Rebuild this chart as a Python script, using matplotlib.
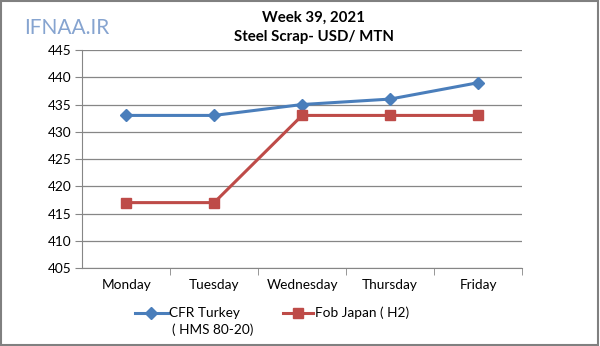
import matplotlib.pyplot as plt
from matplotlib.patches import Rectangle
from matplotlib.lines import Line2D

# Datos
dias = ['Monday', 'Tuesday', 'Wednesday', 'Thursday', 'Friday']
cfr_turkey = [433, 433, 435, 436, 439]
fob_japan = [417, 417, 433, 433, 433]
y_ticks = [405, 410, 415, 420, 425, 430, 435, 440, 445]

azul = '#4A7EBB'
rojo = '#BE4B48'

plt.rcParams['font.family'] = ['Lato', 'DejaVu Sans']

fig = plt.figure(figsize=(6, 3.46), dpi=100)
ax = fig.add_axes([0.137, 0.2254, 0.733, 0.6300])

x = list(range(len(dias)))
ax.plot(x, cfr_turkey, color=azul, lw=2.2, marker='D', ms=6)
ax.plot(x, fob_japan, color=rojo, lw=2.2, marker='s', ms=7)

ax.set_xlim(-0.5, len(dias) - 0.5)
ax.set_ylim(405, 445)
ax.set_yticks(y_ticks)
ax.set_xticks(x)
ax.set_xticklabels(dias)
ax.set_xticks([i + 0.5 for i in range(len(dias))], minor=True)
ax.tick_params(axis='x', which='major', length=0, pad=8, labelsize=9.8)
ax.tick_params(axis='x', which='minor', length=5, color='#868686')
ax.tick_params(axis='y', length=5, color='#868686', labelsize=9.8, pad=3)
ax.grid(axis='y', color='#868686', lw=0.9)
ax.set_axisbelow(True)
for s in ['top', 'right']:
    ax.spines[s].set_visible(False)
for s in ['left', 'bottom']:
    ax.spines[s].set_color('#868686')

# Titulo
fig.text(0.523, 0.948, 'Week 39, 2021', ha='center', va='center', fontsize=10.8, fontweight='bold')
fig.text(0.523, 0.893, 'Steel Scrap- USD/ MTN', ha='center', va='center', fontsize=10.8, fontweight='bold')
fig.text(0.04, 0.918, 'IFNAA.IR', ha='left', va='center', fontsize=15, color='#86A4D0')

# Leyenda manual (handle alineado con la primera linea)
def fx(px):
    return px / 600

def fy(py):
    return 1 - py / 346

fig.add_artist(Line2D([fx(135), fx(168)], [fy(313), fy(313)], color=azul, lw=2.2))
fig.add_artist(Line2D([fx(151)], [fy(313)], color=azul, marker='D', ms=6))
fig.text(fx(169), fy(313), 'CFR Turkey', ha='left', va='center', fontsize=9.8)
fig.text(fx(172), fy(330), '( HMS 80-20)', ha='left', va='center', fontsize=9.8)
fig.add_artist(Line2D([fx(283), fx(313)], [fy(313), fy(313)], color=rojo, lw=2.2))
fig.add_artist(Line2D([fx(298)], [fy(313)], color=rojo, marker='s', ms=7))
fig.text(fx(315), fy(313), 'Fob Japan ( H2)', ha='left', va='center', fontsize=9.8)

fig.patches.append(Rectangle((0.002, 0.004), 0.995, 0.992, transform=fig.transFigure,
                             fill=False, ec='#808080', lw=1.5))

fig.savefig('out.png', dpi=100)
